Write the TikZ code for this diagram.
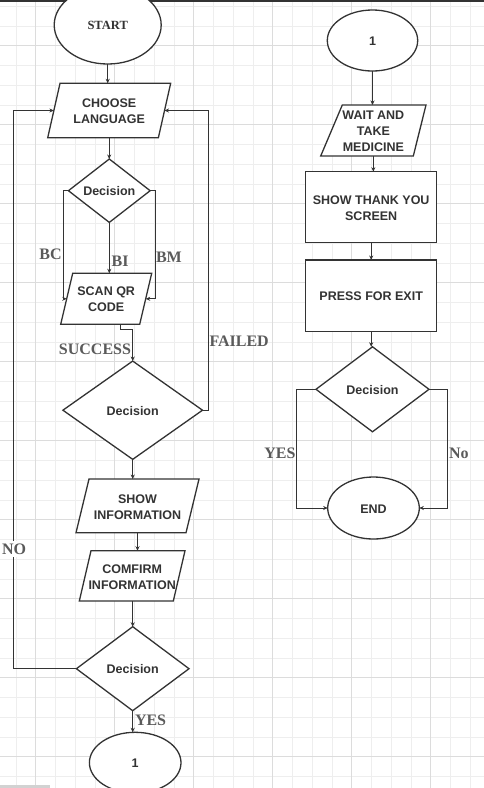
\documentclass[tikz,border=0pt]{standalone}
\usepackage{fontspec}
\setmainfont{Liberation Serif}
\setsansfont{Liberation Sans}
\usetikzlibrary{shapes.geometric,arrows.meta}
\definecolor{ink}{HTML}{333333}
\definecolor{lab}{HTML}{5A5A5A}
\definecolor{gminor}{HTML}{EEEEEE}
\definecolor{gmajor}{HTML}{DCDCDC}
\pgfdeclarelayer{back}
\pgfsetlayers{back,main}
\newcommand{\zt}[1]{\makebox[0pt]{\smash{\raisebox{-4.9pt}{\begin{tabular}{@{}c@{}}#1\end{tabular}}}}}
\newcommand{\parashape}[2]{\draw[outline] ([xshift=#2/2]#1.north west) -- ([xshift=#2/2]#1.north east) -- ([xshift=-#2/2]#1.south east) -- ([xshift=-#2/2]#1.south west) -- cycle;}
\begin{document}
\begin{tikzpicture}[x=1pt,y=-1pt,
  every node/.style={inner sep=0pt, outer sep=0pt},
  outline/.style={draw=ink, line width=1.3pt, fill=white},
  txt/.style={text=ink, font=\sffamily\bfseries\fontsize{12.5}{16}\selectfont},
  box/.style={outline, txt},
  para/.style={txt, rectangle},
  dec/.style={box, diamond},
  term/.style={box, ellipse},
  proc/.style={box, rectangle},
  conn/.style={draw=ink, line width=1pt},
  arr/.style={conn, -{Stealth[length=4.5pt,width=4pt]}},
  lbl/.style={text=lab, font=\rmfamily\bfseries\fontsize{16}{18}\selectfont},
]
\useasboundingbox (0,0) rectangle (484,788);
\clip (0,0) rectangle (484,788);
\begin{pgfonlayer}{back}
\fill[white] (0,0) rectangle (484,788);
\foreach \k in {0,...,23} { \pgfmathsetmacro\xx{16+19.75*\k} \draw[gminor, line width=0.8pt] (\xx,0) -- (\xx,788); }
\foreach \k in {0,...,39} { \pgfmathsetmacro\yy{6.25+19.75*\k} \draw[gminor, line width=0.8pt] (0,\yy) -- (484,\yy); }
\foreach \k in {1,5,...,21} { \pgfmathsetmacro\xx{16+19.75*\k} \draw[gmajor, line width=0.8pt] (\xx,0) -- (\xx,788); }
\foreach \k in {2,6,...,38} { \pgfmathsetmacro\yy{6.25+19.75*\k} \draw[gmajor, line width=0.8pt] (0,\yy) -- (484,\yy); }
\draw[ink, line width=1.5pt] (0,0.75) -- (484,0.75);
\fill[gray!35] (0,785) rectangle (50,788);
\end{pgfonlayer}

% left column
\node[term, minimum width=107, minimum height=78, font=\rmfamily\bfseries\fontsize{12.5}{15}\selectfont] (start) at (107.7,25) {\zt{START}};
\node[para, minimum width=110.65, minimum height=54.4] (choose) at (109.2,110.5) {\zt{CHOOSE\\LANGUAGE}};
\node[dec, minimum width=81.7, minimum height=63.4] (dec1) at (109.3,190.7) {\zt{Decision}};
\node[para, minimum width=79, minimum height=51] (scan) at (106.2,298.8) {\zt{SCAN QR\\CODE}};
\node[dec, minimum width=139.6, minimum height=98.3] (dec2) at (132.7,410.2) {\zt{Decision}};
\node[para, minimum width=110, minimum height=53.7] (showinfo) at (137.5,505.9) {\zt{SHOW\\INFORMATION}};
\node[para, minimum width=94, minimum height=50.3] (confirm) at (132.15,575.9) {\zt{COMFIRM\\INFORMATION}};
\node[dec, minimum width=112.6, minimum height=84] (dec3) at (132.7,668.7) {\zt{Decision}};
\node[term, minimum width=91.6, minimum height=60.8] (one1) at (135.2,762.7) {\zt{1}};

% right column
\node[term, minimum width=90.4, minimum height=61] (one2) at (372.5,40.5) {\zt{1}};
\node[para, minimum width=88, minimum height=51] (wait) at (373.35,130.5) {\zt{WAIT AND\\TAKE\\MEDICINE}};
\node[proc, minimum width=131, minimum height=71] (thank) at (371.2,207.2) {\zt{SHOW THANK YOU\\SCREEN}};
\node[proc, minimum width=131, minimum height=71.7] (press) at (371.2,295.85) {\zt{PRESS FOR EXIT}};
\node[dec, minimum width=113, minimum height=85] (dec4) at (372.5,389.3) {\zt{Decision}};
\node[term, minimum width=91.6, minimum height=62] (end) at (373.5,508) {\zt{END}};

% parallelogram outlines behind their texts
\begin{pgfonlayer}{back}
\parashape{choose}{12.3}
\parashape{scan}{12}
\parashape{showinfo}{13}
\parashape{confirm}{11.7}
\draw[outline] ([xshift=12.95pt]wait.north west) -- ([xshift=8.65pt]wait.north east) -- ([xshift=-4.05pt]wait.south east) -- ([xshift=-8.65pt]wait.south west) -- cycle;
\end{pgfonlayer}

% connectors left
\draw[arr] (start.south) -- (start.south |- choose.north);
\draw[arr] (choose.south) -- (choose.south |- dec1.north);
\draw[arr] (dec1.south) -- (dec1.south |- scan.north);
\draw[arr] (dec1.west) -- ++(-5,0) |- (scan.west);
\draw[arr] (dec1.east) -- ++(5,0) |- (scan.east);
\draw[arr] ([xshift=14.5pt]scan.south) -- ++(0,5) -| (dec2.north);
\draw[arr] (dec2.east) -- ++(6,0) |- (choose.east);
\draw[arr] (dec2.south) -- (dec2.south |- showinfo.north);
\draw[arr] (showinfo.south) -- (showinfo.south |- confirm.north);
\draw[arr] (confirm.south -| dec3.north) -- (dec3.north);
\draw[arr] (dec3.south) -- (dec3.south |- one1.north);
\draw[arr] (dec3.west) -- ++(-62.7,0) |- (choose.west);

\node[lbl, anchor=east] (lbc) at (61.7,254) {BC};
\node[lbl, anchor=west] (lbi) at (111.7,261.7) {BI};
\node[lbl, anchor=west] (lbm) at (156,257.7) {BM};
\node[lbl, anchor=east] (lsuccess) at (131,349.3) {SUCCESS};
\node[lbl, anchor=west] (lfailed) at (209.5,341) {FAILED};
\node[lbl, anchor=west] (lyes1) at (135,720.7) {YES};
\node[lbl, fill=white, inner xsep=1pt, inner ysep=2.5pt] (lno) at (14,549.3) {NO};

% connectors right
\draw[arr] (one2.south) -- (one2.south |- wait.north);
\draw[arr] (wait.south) -- (wait.south |- thank.north);
\draw[arr] (thank.south) -- (press.north);
\draw[arr] (press.south) -- (press.south |- dec4.north);
\draw[arr] (dec4.west) -- ++(-19.3,0) |- (end.west);
\draw[arr] (dec4.east) -- ++(18.3,0) |- (end.east);
\node[lbl, anchor=east] (lyes2) at (295.5,453.3) {YES};
\node[lbl, anchor=west] (lno2) at (449,453.3) {No};
\end{tikzpicture}
\end{document}
